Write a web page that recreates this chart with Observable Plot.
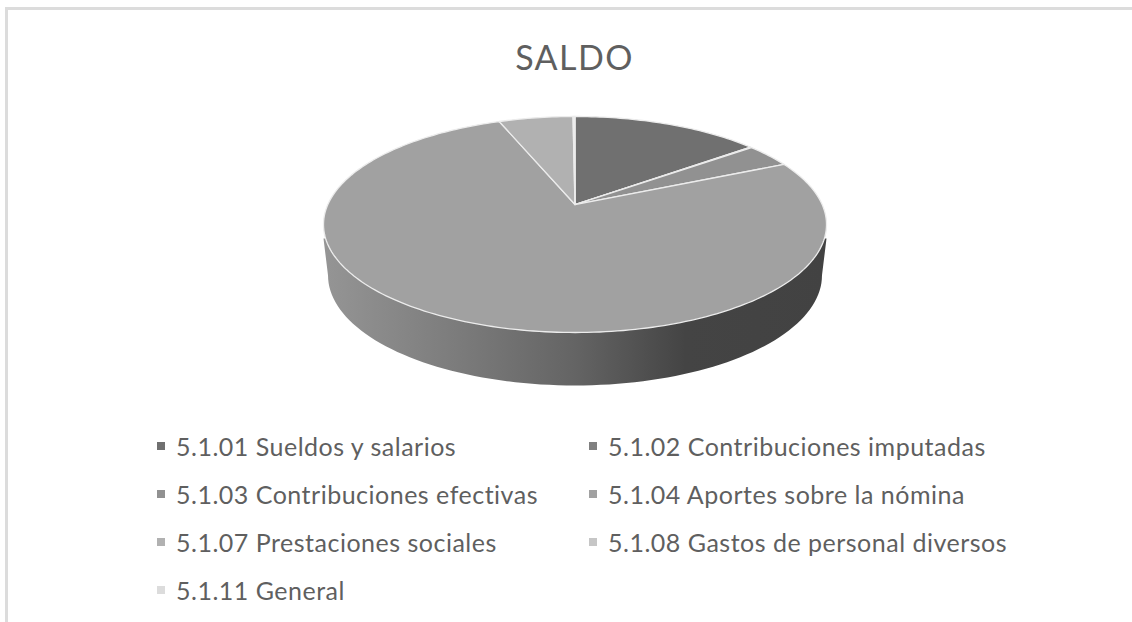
<!DOCTYPE html>
<html lang="es">
<head>
<meta charset="utf-8">
<script src="https://cdn.jsdelivr.net/npm/d3@7"></script>
<script src="https://cdn.jsdelivr.net/npm/@observablehq/plot@0.6"></script>
<style>
  html, body { margin: 0; background: #fff; }
  #frame { position: relative; width: 1132px; height: 622px; overflow: hidden; background: #fff; font-family: Lato, sans-serif; color: #5f5f5f; }
  #frame::before { content: ""; position: absolute; left: 5px; top: 7px; right: 0; bottom: 0; border-top: 3px solid #dcdcdc; border-left: 3px solid #dcdcdc; }
  #title { position: absolute; left: 0; top: 37px; width: 1149px; text-align: center; font-size: 34px; line-height: 40px; font-weight: 400; margin: 0; letter-spacing: 1.4px; }
  #chart { position: absolute; left: 0; top: 100px; }
  #chart svg { display: block; background: transparent; }
  #legend { position: absolute; left: 157px; top: 421.5px; display: grid; grid-template-columns: 432px 440px; grid-auto-rows: 48.2px; font-size: 25px; letter-spacing: 0.5px; }
  #legend div { display: flex; align-items: center; white-space: nowrap; }
  #legend i { display: inline-block; width: 8px; height: 8px; margin-right: 11px; flex: none; }
</style>
</head>
<body>
<div id="frame">
  <h1 id="title">SALDO</h1>
  <div id="chart"></div>
  <div id="legend"></div>
</div>
<script>
const categories = [
  "5.1.01 Sueldos y salarios",
  "5.1.02 Contribuciones imputadas",
  "5.1.03 Contribuciones efectivas",
  "5.1.04 Aportes sobre la nómina",
  "5.1.07 Prestaciones sociales",
  "5.1.08 Gastos de personal diversos",
  "5.1.11 General"
];
const saldoPercent = [14.5, 0.1, 3.6, 75.9, 5.7, 0.1, 0.05];
const palette = ["#707070", "#808080", "#919191", "#a1a1a1", "#b1b1b1", "#c6c6c6", "#dcdcdc"];

// Tilted-disc view: a circle seen in perspective is an ellipse whose centre
// appears shifted towards the back, so slice tips meet above the ellipse centre.
const tilt = 0.185;
const project = (angle) => {
  const u = Math.sin(angle), v = Math.cos(angle), w = 1 + tilt * v;
  return [Math.sqrt(1 - tilt * tilt) * u / w, (v + tilt) / w];
};
const arcs = d3.pie().sort(null).value((d) => d)(saldoPercent);
const slicePoints = arcs.flatMap((a, i) => {
  const n = Math.max(2, Math.ceil((a.endAngle - a.startAngle) / 0.02));
  const rim = d3.range(n + 1).map((j) => project(a.startAngle + (a.endAngle - a.startAngle) * j / n));
  const apex = [0, tilt];
  return [apex, ...rim, apex].map(([x, y]) => ({x, y, category: categories[i]}));
});

// Side wall of the disc: a narrower, lower half-ellipse joined to the rim.
const wallDrop = -0.472, wallRx = 0.982, wallRy = 1.0185, wallShoulder = -0.13;
const wallPoints = [
  {x: -1, y: wallShoulder},
  ...d3.range(0, 181, 2).map((deg) => {
    const t = deg * Math.PI / 180;
    return {x: -wallRx * Math.cos(t), y: wallDrop - wallRy * Math.sin(t)};
  }),
  {x: 1, y: wallShoulder}
];

const gradient = () => {
  const defs = d3.create("svg:defs");
  const g = defs.append("linearGradient").attr("id", "wallShade");
  [[0, "#959595"], [0.25, "#7d7d7d"], [0.5, "#646464"], [0.72, "#444444"], [1, "#424242"]]
    .forEach(([o, c]) => g.append("stop").attr("offset", o).attr("stop-color", c));
  return defs.node();
};

const chart = Plot.plot({
  width: 1132,
  height: 300,
  margin: 0,
  x: {domain: [-1, 1], range: [323, 826], axis: null},
  y: {domain: [-1, 1], range: [232, 16], axis: null},
  color: {domain: categories, range: palette},
  marks: [
    gradient,
    Plot.line(wallPoints, {x: "x", y: "y", fill: "url(#wallShade)", stroke: "none"}),
    Plot.line(slicePoints, {x: "x", y: "y", z: "category", fill: "category", stroke: "#ececec", strokeWidth: 1.3})
  ]
});
document.getElementById("chart").append(chart);

const legend = d3.select("#legend");
categories.forEach((c, i) => {
  const row = legend.append("div");
  row.append("i").style("background", palette[i]);
  row.append("span").text(c);
});
</script>
</body>
</html>
